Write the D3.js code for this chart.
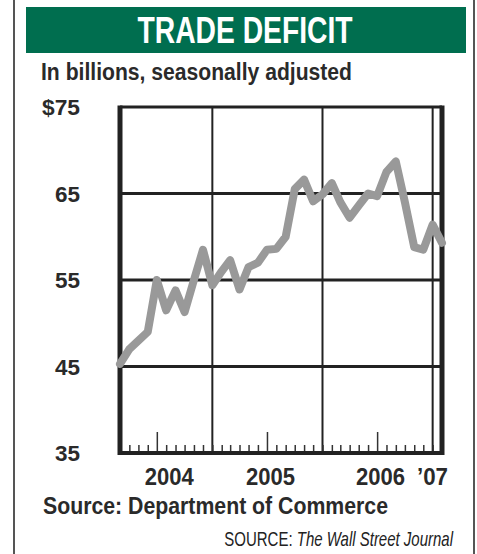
<!DOCTYPE html>
<html>
<head>
<meta charset="utf-8">
<script src="https://cdn.jsdelivr.net/npm/d3@7"></script>
<style>
  body { margin: 0; background: #fff; }
  svg { display: block; }
</style>
</head>
<body>
<div id="chart"></div>
<script>
{
// monthly trade deficit, $ billions (Feb 2004 - Jan 2007)
const months = [
  '2004-02', '2004-03', '2004-04', '2004-05', '2004-06', '2004-07',
  '2004-08', '2004-09', '2004-10', '2004-11', '2004-12', '2005-01',
  '2005-02', '2005-03', '2005-04', '2005-05', '2005-06', '2005-07',
  '2005-08', '2005-09', '2005-10', '2005-11', '2005-12', '2006-01',
  '2006-02', '2006-03', '2006-04', '2006-05', '2006-06', '2006-07',
  '2006-08', '2006-09', '2006-10', '2006-11', '2006-12', '2007-01'
];
const deficit = [
  45.3, 47.0, 48.0, 49.0, 55.0, 51.5,
  53.8, 51.3, 55.0, 58.5, 54.4, 56.0,
  57.3, 53.9, 56.5, 57.0, 58.5, 58.6,
  60.0, 65.5, 66.6, 64.1, 64.9, 66.2,
  64.0, 62.2, 63.6, 65.0, 64.7, 67.5,
  68.7, 64.0, 58.8, 58.5, 61.4, 59.3
];
const yTicks = [35, 45, 55, 65, 75];
const years = [2004, 2005, 2006, 2007];
const yearLabels = ['2004', '2005', '2006', '\u201907'];

const width = 477, height = 554;
const plot = {left: 120, right: 442, top: 107, bottom: 453};
const font = '"Liberation Sans Narrow", "Arial Narrow", "Liberation Sans", Arial, sans-serif';
const ink = '#2a2a2a';

const parse = d3.timeParse('%Y-%m');
// each month is plotted at the end of the month
const data = months.map((m, i) => ({date: d3.timeMonth.offset(parse(m), 1), value: deficit[i]}));

let svg = d3.select('#chart').append('svg')
    .attr('width', width)
    .attr('height', height);

let x = d3.scaleTime()
    .domain([new Date(2004, 2, 1), new Date(2007, 1, 1)])
    .range([plot.left, plot.right]);

let y = d3.scaleLinear()
    .domain([35, 75])
    .range([plot.bottom, plot.top]);

function addText(px, py, str, size, weight, anchor, len, style) {
    let t = svg.append('text')
        .attr('x', px)
        .attr('y', py)
        .attr('text-anchor', anchor)
        .style('font-family', font)
        .style('font-size', size + 'px')
        .style('font-weight', weight)
        .style('font-style', style || 'normal')
        .attr('fill', ink)
        .text(str);
    if (len) t.attr('textLength', len).attr('lengthAdjust', 'spacingAndGlyphs');
    return t;
}

// outer frame
svg.append('line').attr('x1', 14).attr('x2', 14).attr('y1', 0).attr('y2', height)
    .attr('stroke', '#555').attr('stroke-width', 2);
svg.append('line').attr('x1', 474).attr('x2', 474).attr('y1', 0).attr('y2', height)
    .attr('stroke', '#555').attr('stroke-width', 2);

// title banner
svg.append('rect')
    .attr('x', 26).attr('y', 7)
    .attr('width', 440).attr('height', 46)
    .attr('fill', '#006e4f');
addText(245, 43, 'TRADE DEFICIT', 37, 'bold', 'middle', 215).attr('fill', '#fff');

addText(41, 80, 'In billions, seasonally adjusted', 23, 'bold', 'start', 311);

// y labels
yTicks.forEach(v => {
    addText(80, y(v) + 8, v === 75 ? '$75' : String(v), 22, 'bold', 'end', v === 75 ? 38 : 25);
});

// horizontal gridlines
svg.append('g').selectAll('line')
    .data(yTicks.filter(v => v > 35 && v < 75))
    .enter().append('line')
    .attr('x1', plot.left).attr('x2', plot.right)
    .attr('y1', d => y(d)).attr('y2', d => y(d))
    .attr('stroke', '#222').attr('stroke-width', 3);

// year boundaries
svg.append('g').selectAll('line')
    .data(years.slice(1))
    .enter().append('line')
    .attr('x1', d => x(new Date(d, 0, 1))).attr('x2', d => x(new Date(d, 0, 1)))
    .attr('y1', plot.top).attr('y2', plot.bottom)
    .attr('stroke', '#222').attr('stroke-width', 2);

// monthly ticks along the bottom, taller at mid-year
let ticks = svg.append('g')
    .attr('transform', `translate(0, ${plot.bottom})`)
    .call(d3.axisTop(x)
        .ticks(d3.timeMonth.every(1))
        .tickSize(8)
        .tickFormat(''));
ticks.select('.domain').remove();
ticks.selectAll('.tick line')
    .attr('stroke', '#333')
    .attr('stroke-width', 1.5)
    .attr('y2', d => d.getMonth() === 6 ? -21 : -8);

// plot frame
svg.append('line').attr('x1', plot.left).attr('x2', plot.right).attr('y1', plot.top).attr('y2', plot.top)
    .attr('stroke', '#222').attr('stroke-width', 3);
svg.append('line').attr('x1', plot.left - 2).attr('x2', plot.right + 2).attr('y1', plot.bottom).attr('y2', plot.bottom)
    .attr('stroke', '#222').attr('stroke-width', 4);
svg.append('line').attr('x1', plot.left).attr('x2', plot.left).attr('y1', plot.top - 1.5).attr('y2', plot.bottom + 2)
    .attr('stroke', '#222').attr('stroke-width', 5);
svg.append('line').attr('x1', plot.right).attr('x2', plot.right).attr('y1', plot.top - 1.5).attr('y2', plot.bottom + 2)
    .attr('stroke', '#222').attr('stroke-width', 5);

// year labels
let yearX = [];
years.forEach((yr, i) => {
    let a = Math.max(x(new Date(yr, 0, 1)), plot.left);
    let b = Math.min(x(new Date(yr + 1, 0, 1)), plot.right);
    yearX.push((a + b) / 2 + 3);
});
yearLabels.forEach((lbl, i) => {
    if (i === yearLabels.length - 1) {
        addText(plot.right + 6, 485, lbl, 24, 'bold', 'end', 31);
    } else {
        addText(yearX[i], 485, lbl, 24, 'bold', 'middle', 49);
    }
});

// the deficit line
let line = d3.line()
    .x(d => x(d.date))
    .y(d => y(d.value));

svg.append('path')
    .datum(data)
    .attr('d', line)
    .attr('fill', 'none')
    .attr('stroke', '#999')
    .attr('stroke-width', 8)
    .attr('stroke-linejoin', 'round')
    .attr('stroke-linecap', 'round');

// sources
addText(43, 514, 'Source: Department of Commerce', 23, 'bold', 'start', 345);
// condensed look: squeeze horizontally rather than use a narrow face
let wsj = svg.append('text')
    .attr('transform', 'translate(453, 546) scale(0.75, 1)')
    .attr('text-anchor', 'end')
    .style('font-family', font)
    .style('font-size', '20px')
    .attr('fill', '#222');
wsj.append('tspan').text('SOURCE: ');
wsj.append('tspan').style('font-style', 'italic').text('The Wall Street Journal');
}
</script>
</body>
</html>
